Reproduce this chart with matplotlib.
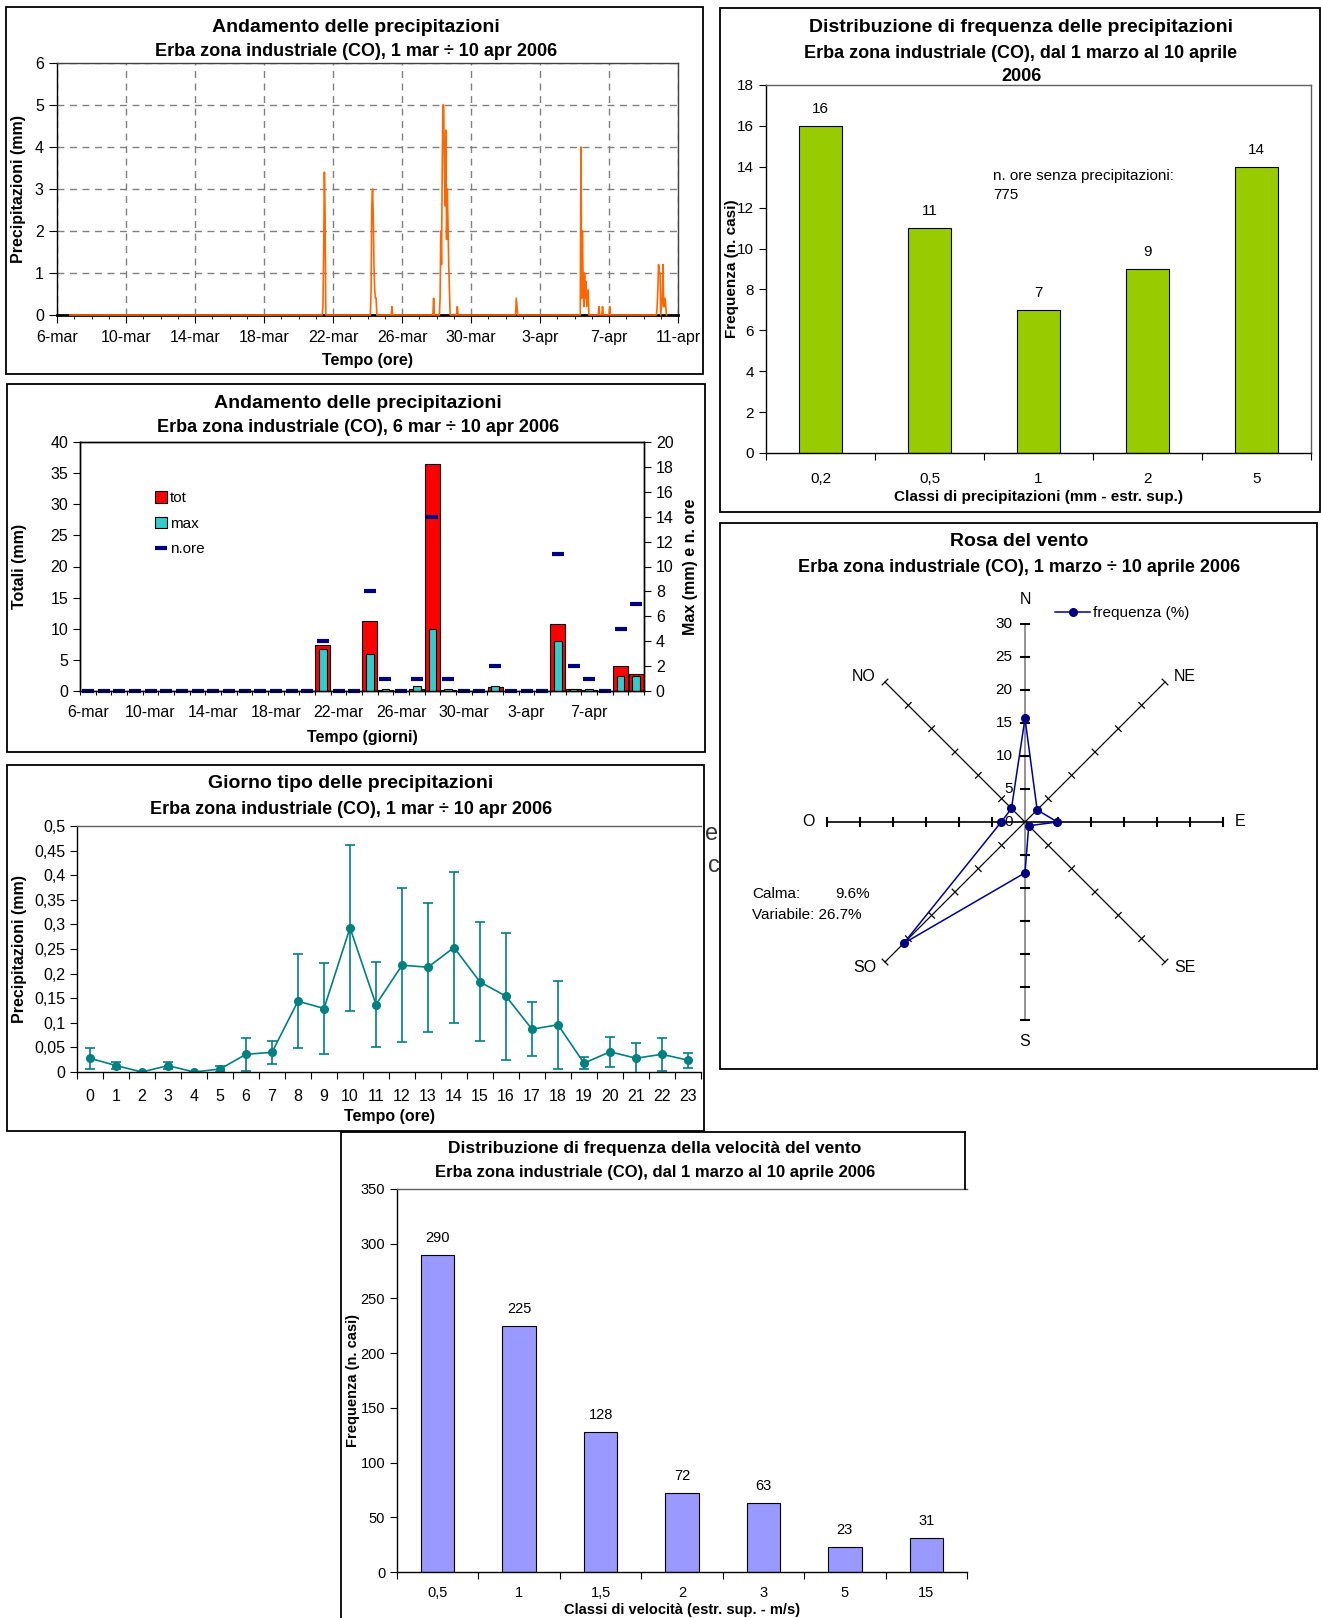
import matplotlib
matplotlib.use('Agg')
import matplotlib.pyplot as plt
from matplotlib.lines import Line2D
from matplotlib.patches import Patch, Rectangle
from matplotlib.ticker import FuncFormatter
import numpy as np
import pandas as pd

plt.rcParams['font.family'] = ['Liberation Sans', 'DejaVu Sans']
plt.rcParams['axes.linewidth'] = 1.0

# hourly rain, Erba zona industriale: everything outside the events is 0 mm
SERIES_START = '2006-03-06 18:00'
SERIES_END = '2006-04-10 08:00'
RAIN_EVENTS = [
    ('2006-03-21 10:00', [0.2, 1.4, 3.4, 2.4]),
    ('2006-03-24 05:00', [0.6, 2.6, 3.0, 2.4, 1.2, 0.6, 0.4, 0.4]),
    ('2006-03-25 10:00', [0.2]),
    ('2006-03-27 20:00', [0.4]),
    ('2006-03-28 05:00', [0.4, 2.0, 1.2, 3.6, 5.0, 5.0, 3.4, 2.6, 4.4, 1.8, 3.0, 2.2, 1.2, 0.6]),
    ('2006-03-29 05:00', [0.2]),
    ('2006-04-01 15:00', [0.4, 0.2]),
    ('2006-04-05 09:00', [4.0, 0.4, 2.0, 0.8, 0.2, 1.0, 0.4, 0.8, 0.2, 0.4, 0.6]),
    ('2006-04-06 10:00', [0.2]),
    ('2006-04-06 15:00', [0.2]),
    ('2006-04-07 01:00', [0.2]),
    ('2006-04-09 19:00', [0.2, 0.6, 1.2, 1.0, 1.0]),
    ('2006-04-10 01:00', [0.2, 0.4, 1.2, 0.2, 0.2, 0.4, 0.2]),
]
MESI = ['gen', 'feb', 'mar', 'apr', 'mag', 'giu', 'lug', 'ago', 'set', 'ott', 'nov', 'dic']

# typical day: hourly mean and error
ore = list(range(24))
prec_media = [0.028, 0.013, 0.0, 0.013, 0.0, 0.006, 0.036, 0.040, 0.144, 0.129, 0.293, 0.137,
              0.217, 0.213, 0.253, 0.183, 0.154, 0.087, 0.096, 0.018, 0.041, 0.028, 0.036, 0.024]
prec_err = [0.021, 0.007, 0.0, 0.007, 0.0, 0.007, 0.034, 0.023, 0.096, 0.093, 0.169, 0.086,
            0.157, 0.131, 0.153, 0.121, 0.129, 0.055, 0.089, 0.012, 0.030, 0.031, 0.034, 0.015]

# rain class frequencies
classi_prec = ['0,2', '0,5', '1', '2', '5']
freq_prec = [16, 11, 7, 9, 14]
ore_secche = 775

# wind rose (%)
direzioni = ['N', 'NE', 'E', 'SE', 'S', 'SO', 'O', 'NO']
freq_dir = [15.7, 2.6, 4.9, 0.8, 7.7, 26.0, 3.6, 2.9]
calma = 9.6
variabile = 26.7

# wind speed classes
classi_vel = ['0,5', '1', '1,5', '2', '3', '5', '15']
freq_vel = [290, 225, 128, 72, 63, 23, 31]

W, H = 1321, 1618
fig = plt.figure(figsize=(W / 100, H / 100), dpi=100)


def box(r):
    l, t, rr, b = r
    return [l / W, 1 - b / H, (rr - l) / W, (b - t) / H]


def frame(l, t, r, b):
    fig.patches.append(Rectangle((l / W, 1 - b / H), (r - l) / W, (b - t) / H,
                                 transform=fig.transFigure, fill=False, ec='black', lw=1.3))


def ftext(x, y, s, **kw):
    kw.setdefault('ha', 'center')
    kw.setdefault('va', 'center')
    return fig.text(x / W, 1 - y / H, s, **kw)


def labels(ax, r, xlab, ylab, xlab_y, ylab_x, size=11.5):
    l, t, rr, b = r
    ax.set_xlabel(xlab, fontsize=size, fontweight='bold')
    ax.set_ylabel(ylab, fontsize=size, fontweight='bold')
    ax.xaxis.set_label_coords(0.5, (b - xlab_y) / (b - t))
    ax.yaxis.set_label_coords((ylab_x - l) / (rr - l), 0.5)
    ax.xaxis.label.set_va('center')
    ax.yaxis.label.set_va('center')


def comma(v, pos=None):
    return f'{v:g}'.replace('.', ',')


def day_label(d):
    return f'{d.day}-{MESI[d.month - 1]}'


# build the hourly series and daily summaries
hourly = pd.Series(0.0, index=pd.date_range(SERIES_START, SERIES_END, freq='h'))
for start, vals in RAIN_EVENTS:
    hourly.loc[pd.date_range(start, periods=len(vals), freq='h')] = vals
day_tot = hourly.resample('D').sum()
day_max = hourly.resample('D').max()
day_ore = (hourly > 0).resample('D').sum()

TITLE, SUB, TICK = 14, 13, 11.5

# ---- hourly precipitation ----
r1 = (57, 63, 678, 315)
frame(6, 7, 703, 374)
ftext(356, 27, 'Andamento delle precipitazioni', fontsize=TITLE, fontweight='bold')
ftext(356, 52, 'Erba zona industriale (CO), 1 mar \u00f7 10 apr 2006', fontsize=SUB, fontweight='bold')
ax1 = fig.add_axes(box(r1))
ax1.plot(hourly.index, hourly.values, color='#FF6600', lw=1.2, zorder=4, clip_on=False)
major = pd.date_range('2006-03-06', '2006-04-11', freq='4D')
ax1.set_xlim(major[0], major[-1])
ax1.set_ylim(0, 6)
ax1.set_xticks(major, [day_label(d) for d in major])
ax1.set_xticks(pd.date_range('2006-03-06', '2006-04-11', freq='D'), minor=True)
ax1.set_yticks(range(7))
ax1.grid(True, which='major', ls=(0, (5, 4)), color='#808080', lw=1)
ax1.tick_params(which='major', direction='out', length=6, labelsize=TICK)
ax1.tick_params(which='major', axis='x', pad=5)
ax1.tick_params(which='minor', direction='out', length=3)
ax1.spines['bottom'].set_linewidth(2)
for s in ('top', 'right'):
    ax1.spines[s].set_color('#404040')
labels(ax1, r1, 'Tempo (ore)', 'Precipitazioni (mm)', 360, 18)

# ---- daily totals ----
r2 = (80, 442, 644, 691)
frame(7, 384, 705, 752)
ftext(358, 403, 'Andamento delle precipitazioni', fontsize=TITLE, fontweight='bold')
ftext(358, 428, 'Erba zona industriale (CO), 6 mar \u00f7 10 apr 2006', fontsize=SUB, fontweight='bold')
ax2 = fig.add_axes(box(r2))
xd = np.arange(len(day_tot))
ax2.bar(xd, day_tot.values, width=0.95, color='#FF0000', ec='black', lw=0.8)
ax2.set_xlim(-0.5, len(xd) - 0.5)
ax2.set_ylim(0, 40)
ax2.set_yticks(range(0, 41, 5))
ax2.set_xticks(np.arange(-0.5, len(xd)), [])
ax2.set_xticks(xd[::4], [day_label(d) for d in day_tot.index[::4]], minor=True)
ax2.tick_params(which='major', axis='x', length=3)
ax2.tick_params(which='minor', axis='x', length=0, labelsize=TICK, pad=10)
ax2.tick_params(axis='y', length=5, labelsize=TICK)
ax2b = ax2.twinx()
ax2b.bar(xd, day_max.values, width=0.47, color='#33CCCC', ec='black', lw=0.8)
ax2b.plot(xd, day_ore.values, ls='none', marker='_', ms=9, mew=3, color='#000080', clip_on=False)
ax2b.set_ylim(0, 20)
ax2b.set_yticks(range(0, 21, 2))
ax2b.tick_params(axis='y', length=5, labelsize=TICK)
labels(ax2, r2, 'Tempo (giorni)', 'Totali (mm)', 737, 20)
ax2b.set_ylabel('Max (mm) e n. ore', fontsize=11.5, fontweight='bold')
ax2b.yaxis.set_label_coords((691 - 80) / (644 - 80), 0.5)
ax2b.yaxis.label.set_va('center')
handles = [Patch(fc='#FF0000', ec='black', lw=0.8), Patch(fc='#33CCCC', ec='black', lw=0.8),
           Line2D([], [], ls='none', marker='_', ms=9, mew=3, color='#000080')]
fig.legend(handles, ['tot', 'max', 'n.ore'], loc='upper left', bbox_to_anchor=(155 / W, 1 - 491 / H),
           frameon=False, fontsize=11, handlelength=0.8, handleheight=0.8, handletextpad=0.2,
           labelspacing=0.75, borderpad=0, borderaxespad=0)

# ---- typical day ----
r3 = (77, 826, 701, 1072)
# letters of the page text peeking out behind the wind rose
ftext(712, 834, 'e', fontsize=17, color='#333333', zorder=0)
ftext(714, 866, 'c', fontsize=17, color='#333333', zorder=0)
frame(7, 765, 704, 1131)
ftext(351, 784, 'Giorno tipo delle precipitazioni', fontsize=TITLE, fontweight='bold')
ftext(351, 810, 'Erba zona industriale (CO), 1 mar \u00f7 10 apr 2006', fontsize=SUB, fontweight='bold')
ax3 = fig.add_axes(box(r3))
ax3.errorbar(ore, prec_media, yerr=prec_err, color='#008080', marker='o', ms=5.5, lw=1.2,
             elinewidth=1.2, capsize=3.4, capthick=1.2)
ax3.set_xlim(-0.5, 23.5)
ax3.set_ylim(0, 0.5)
ax3.set_yticks(np.arange(0, 0.51, 0.05))
ax3.yaxis.set_major_formatter(FuncFormatter(comma))
ax3.set_xticks(np.arange(-0.5, 24), [])
ax3.set_xticks(ore, [str(h) for h in ore], minor=True)
ax3.tick_params(which='major', axis='x', length=5)
ax3.tick_params(which='minor', axis='x', length=0, labelsize=TICK, pad=12)
ax3.tick_params(axis='y', length=5, labelsize=TICK)
ax3.spines['right'].set_visible(False)
ax3.spines['top'].set_color('#606060')
labels(ax3, r3, 'Tempo (ore)', 'Precipitazioni (mm)', 1116, 20)

# ---- rain class frequency ----
r4 = (766, 85, 1311, 453)
frame(720, 8, 1320, 512)
ftext(1021, 27, 'Distribuzione di frequenza delle precipitazioni', fontsize=TITLE, fontweight='bold')
ftext(1021, 65, 'Erba zona industriale (CO), dal 1 marzo al 10 aprile\n2006', fontsize=SUB,
      fontweight='bold', linespacing=1.45)
ax4 = fig.add_axes(box(r4))
xc = np.arange(len(classi_prec))
b4 = ax4.bar(xc, freq_prec, width=0.4, color='#99CC00', ec='black', lw=0.8)
ax4.bar_label(b4, labels=[str(v) for v in freq_prec], padding=7, fontsize=11)
ax4.set_xlim(-0.5, len(xc) - 0.5)
ax4.set_ylim(0, 18)
ax4.set_yticks(range(0, 19, 2))
ax4.set_xticks(np.arange(-0.5, len(xc)), [])
ax4.set_xticks(xc, classi_prec, minor=True)
ax4.tick_params(which='major', axis='x', length=5)
ax4.tick_params(which='minor', axis='x', length=0, labelsize=11, pad=14)
ax4.tick_params(axis='y', length=5, labelsize=11)
for s in ('top', 'right'):
    ax4.spines[s].set_color('#606060')
labels(ax4, r4, 'Classi di precipitazioni (mm - estr. sup.)', 'Frequenza (n. casi)', 497, 732, size=11)
ftext(993, 169, f'n. ore senza precipitazioni:\n{ore_secche}', fontsize=11, ha='left', va='top',
      linespacing=1.45)

# ---- wind rose ----
frame(720, 523, 1317, 1069)
ftext(1019, 541, 'Rosa del vento', fontsize=TITLE, fontweight='bold')
ftext(1019, 567, 'Erba zona industriale (CO), 1 marzo \u00f7 10 aprile 2006', fontsize=SUB, fontweight='bold')
R = 240 / 6.6
ax5 = fig.add_axes(box((785, 582, 1265, 1062)))
ax5.set_xlim(-R, R)
ax5.set_ylim(-R, R)
ax5.axis('off')
ang = np.deg2rad(np.arange(8) * 45)
rings = np.arange(5, 31, 5)
for i, a in enumerate(ang):
    ux, uy = np.sin(a), np.cos(a)
    col = '#808080' if i in (0, 4) else 'black'
    ax5.plot([0, 30 * ux], [0, 30 * uy], color=col, lw=1.2 if i % 2 == 0 else 0.9)
    tw = 1.5 if i % 2 == 0 else 0.9
    for rr in rings:
        cx, cy = rr * ux, rr * uy
        ax5.plot([cx - 0.6 * uy, cx + 0.6 * uy], [cy + 0.6 * ux, cy - 0.6 * ux], color='black', lw=tw)
for rr in np.arange(0, 31, 5):
    ax5.text(-1.9, rr, str(rr), ha='right', va='center', fontsize=11)
offsets = [(0, 24), (9, 5), (12, 0), (9, -5), (0, -22), (-9, -5), (-12, 0), (-9, 5)]
for a, name, (ox, oy) in zip(ang, direzioni, offsets):
    ha = 'center' if ox == 0 else ('left' if ox > 0 else 'right')
    ax5.annotate(name, (30 * np.sin(a), 30 * np.cos(a)), xytext=(ox * 0.72, oy * 0.72),
                 textcoords='offset points', ha=ha, va='center', fontsize=11.5)
fx = np.array(freq_dir) * np.sin(ang)
fy = np.array(freq_dir) * np.cos(ang)
ax5.plot(np.append(fx, fx[0]), np.append(fy, fy[0]), color='#0000A0', lw=1.1, zorder=5)
ax5.plot(fx, fy, ls='none', marker='o', ms=5.5, color='#000080', zorder=6)
fig.legend([Line2D([], [], color='#0000A0', lw=1.1, marker='o', ms=5.5, mfc='#000080', mec='#000080')],
           ['frequenza (%)'], loc='center left', bbox_to_anchor=(1055 / W, 1 - 613 / H), frameon=False,
           fontsize=11, handlelength=2.3, handletextpad=0.2, borderpad=0, borderaxespad=0)
ftext(752, 894, 'Calma:', fontsize=11, ha='left')
ftext(870, 894, f'{calma}%', fontsize=11, ha='right')
ftext(752, 915, f'Variabile: {variabile}%', fontsize=11, ha='left')

# ---- wind speed class frequency ----
r6 = (397, 1189, 967, 1572)
for xs, ys in (([341, 341], [1132, 1625]), ([341, 965], [1132, 1132]), ([965, 965], [1132, 1189])):
    fig.add_artist(Line2D([x / W for x in xs], [1 - y / H for y in ys], color='black', lw=1.3))
ftext(655, 1148, 'Distribuzione di frequenza della velocit\u00e0 del vento', fontsize=12.5, fontweight='bold')
ftext(655, 1172, 'Erba zona industriale (CO), dal 1 marzo al 10 aprile 2006', fontsize=12, fontweight='bold')
ax6 = fig.add_axes(box(r6))
xv = np.arange(len(classi_vel))
b6 = ax6.bar(xv, freq_vel, width=0.41, color='#9999FF', ec='black', lw=0.8)
ax6.bar_label(b6, labels=[str(v) for v in freq_vel], padding=7, fontsize=10.5)
ax6.set_xlim(-0.5, len(xv) - 0.5)
ax6.set_ylim(0, 350)
ax6.set_yticks(range(0, 351, 50))
ax6.set_xticks(np.arange(-0.5, len(xv)), [])
ax6.set_xticks(xv, classi_vel, minor=True)
ax6.tick_params(which='major', axis='x', length=5)
ax6.tick_params(which='minor', axis='x', length=0, labelsize=10.5, pad=10)
ax6.tick_params(axis='y', length=5, labelsize=10.5)
ax6.spines['right'].set_visible(False)
ax6.spines['top'].set_color('#606060')
labels(ax6, r6, 'Classi di velocit\u00e0 (estr. sup. - m/s)', 'Frequenza (n. casi)', 1610, 353, size=10.5)

fig.savefig('out.png', dpi=100)
